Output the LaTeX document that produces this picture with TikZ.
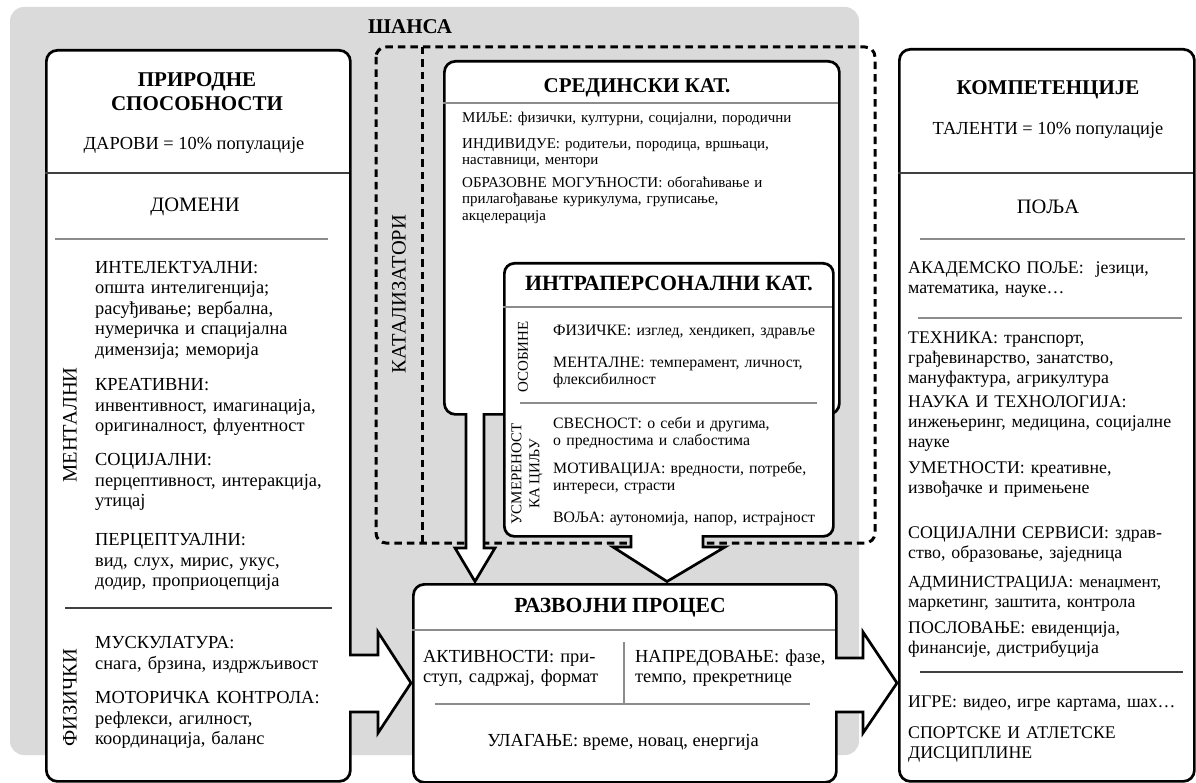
\documentclass[tikz,border=0pt]{standalone}
\usepackage{fontspec}
\setmainfont{Liberation Serif}
\definecolor{bggray}{RGB}{218,218,218}
\definecolor{sepgray}{RGB}{140,140,140}
\newcommand{\fbody}{\fontsize{18.4}{20.5}\selectfont}
\newcommand{\fright}{\fontsize{17.8}{20}\selectfont}
\newcommand{\fsmall}{\fontsize{15}{16.5}\selectfont}
\newcommand{\fintra}{\fontsize{15.8}{17}\selectfont}
\newcommand{\ftitle}{\fontsize{21}{24}\selectfont\bfseries}
\newcommand{\fhead}{\fontsize{20.5}{24}\selectfont}
\newcommand{\frot}{\fontsize{15}{18}\selectfont}
\begin{document}
\begin{tikzpicture}[x=1pt,y=-1pt,
  boxline/.style={line width=2.7pt},
  bigbox/.style={draw, boxline, fill=white, rounded corners=11pt, anchor=north west, inner sep=0pt},
  dashline/.style={line width=3pt, dash pattern=on 7.5pt off 5pt},
  lightsep/.style={draw=sepgray, line width=1.4pt},
  darksep/.style={draw=black!75, line width=1.2pt},
  body/.style={anchor=base west, inner sep=0pt, align=left, text width=300pt, font=\fbody},
  rbody/.style={anchor=base west, inner sep=0pt, align=left, text width=300pt, font=\fright},
  small/.style={anchor=base west, inner sep=0pt, align=left, text width=330pt, font=\fsmall},
  ibody/.style={anchor=base west, inner sep=0pt, align=left, text width=330pt, font=\fintra},
  title/.style={inner sep=0pt, align=center, font=\ftitle},
  head/.style={inner sep=0pt, align=center, font=\fhead},
  centre/.style={inner sep=0pt, align=center, font=\fbody},
  arrowfill/.style={fill=white},
  arrowline/.style={boxline, line join=miter}
]
\useasboundingbox (0,0) rectangle (1196,783);
% chance background
\fill[bggray, rounded corners=14pt] (10,7) rectangle (859,755);
\node[title] (chance) at (410,27) {ШАНСА};
% catalysts dashed frame
\draw[dashline, rounded corners=10pt] (376,47) rectangle (875,543);
\coordinate (divtop) at (422,47);
\coordinate (divbot) at (422,543);
\draw[dashline] (divtop) -- (divbot);
\node[head, rotate=90] (cat) at (399,294) {КАТАЛИЗАТОРИ};

% boxes
\node[bigbox, minimum width=304pt, minimum height=731pt] (nat) at (45,49) {};
\node[bigbox, minimum width=295pt, minimum height=732pt] (comp) at (898,48) {};
\node[bigbox, minimum width=395pt, minimum height=353pt] (env) at (443,60) {};
\node[bigbox, rounded corners=10pt, minimum width=329pt, minimum height=273pt] (intra) at (503,262) {};
\node[bigbox, minimum width=423pt, minimum height=198pt] (dev) at (412,583) {};

% arrow: natural abilities -> developmental process
\fill[arrowfill] (349,655) -- (378,655) -- (378,632) -- (411,683) -- (378,733) -- (378,712) -- (349,712) -- cycle;
\fill[white] (347,656.4) rectangle (351,710.6);
\draw[arrowline] (349,655) -- (378,655) -- (378,632) -- (411,683) -- (378,733) -- (378,712) -- (349,712);

% arrow: developmental process -> competencies
\fill[arrowfill] (835,658) -- (863,658) -- (863,632) -- (897,683) -- (863,733) -- (863,712) -- (835,712) -- cycle;
\fill[white] (833,659.4) rectangle (837,710.6);
\draw[arrowline] (835,658) -- (863,658) -- (863,632) -- (897,683) -- (863,733) -- (863,712) -- (835,712);

% arrow: environmental -> developmental process
\fill[arrowfill] (466,413) -- (466,548) -- (455,548) -- (475,581.5) -- (495,548) -- (484,548) -- (484,413) -- cycle;
\fill[white] (467.4,411) rectangle (482.6,415);
\draw[arrowline] (466,413) -- (466,548) -- (455,548) -- (475,581.5) -- (495,548) -- (484,548) -- (484,413);

% arrow: intrapersonal -> developmental process
\fill[arrowfill] (631,535) -- (631,547) -- (613,547) -- (667,581.5) -- (725,547) -- (703,547) -- (703,535) -- cycle;
\fill[white] (632.4,533) rectangle (701.6,537);
\draw[arrowline] (631,535) -- (631,547) -- (613,547) -- (667,581.5) -- (725,547) -- (703,547) -- (703,535);

% separators
\draw[darksep] (45,173) -- (349,173);
\draw[lightsep] (55,239) -- (328,239);
\draw[darksep] (65,608) -- (332,608);
\draw[darksep] (898,173) -- (1193,173);
\draw[lightsep] (920,239) -- (1185,239);
\draw[lightsep] (918,318) -- (1182,318);
\draw[darksep] (920,672) -- (1183,672);
\draw[lightsep] (443,103) -- (838,103);
\draw[lightsep] (503,307) -- (832,307);
\draw[lightsep] (520,403) -- (817,403);
\draw[lightsep] (412,630) -- (835,630);
\draw[lightsep] (624,642) -- (624,703);
\draw[lightsep] (435,704) -- (810,704);

% natural abilities texts
\node[title] (natT) at (197,92) {ПРИРОДНЕ\\СПОСОБНОСТИ};
\node[centre] (gifts) at (194,145) {ДАРОВИ = 10\% популације};
\node[head] (domains) at (195,207) {ДОМЕНИ};
\node[head, rotate=90] (mental) at (70,425) {МЕНТАЛНИ};
\node[head, rotate=90] (phys) at (70,698) {ФИЗИЧКИ};
\node[body] (n1) at (95,273.5) {ИНТЕЛЕКТУАЛНИ:\\општа интелигенција;\\расуђивање; вербална,\\нумеричка и спацијална\\димензија; меморија};
\node[body] (n2) at (95,390.5) {КРЕАТИВНИ:\\инвентивност, имагинација,\\оригиналност, флуентност};
\node[body] (n3) at (95,465.5) {СОЦИЈАЛНИ:\\перцептивност, интеракција,\\утицај};
\node[body] (n4) at (95,545.5) {ПЕРЦЕПТУАЛНИ:\\вид, слух, мирис, укус,\\додир, проприоцепција};
\node[body] (n5) at (95,648.5) {МУСКУЛАТУРА:\\снага, брзина, издржљивост};
\node[body] (n6) at (95,703.5) {МОТОРИЧКА КОНТРОЛА:\\рефлекси, агилност,\\координација, баланс};

% competencies texts
\node[title] (compT) at (1048,90) {КОМПЕТЕНЦИЈЕ};
\node[centre] (talents) at (1048,130) {ТАЛЕНТИ = 10\% популације};
\node[head] (fields) at (1048,207) {ПОЉА};
\node[rbody] (c1) at (908,273.5) {АКАДЕМСКО ПОЉЕ:\ \ језици,\\математика, науке…};
\node[rbody] (c2) at (908,343.5) {ТЕХНИКА: транспорт,\\грађевинарство, занатство,\\мануфактура, агрикултура};
\node[rbody] (c3) at (908,407.5) {НАУКА И ТЕХНОЛОГИЈА:\\инжењеринг, медицина, социјалне\\науке};
\node[rbody] (c4) at (908,473.5) {УМЕТНОСТИ: креативне,\\извођачке и примењене};
\node[rbody] (c5) at (908,538.5) {СОЦИЈАЛНИ СЕРВИСИ: здрав-\\ство, образовање, заједница};
\node[rbody] (c6) at (908,587.5) {{\fontsize{17}{20}\selectfont АДМИНИСТРАЦИЈА: менаџмент,}\\маркетинг, заштита, контрола};
\node[rbody] (c7) at (908,633.5) {ПОСЛОВАЊЕ: евиденција,\\финансије, дистрибуција};
\node[rbody] (c8) at (908,707.5) {ИГРЕ: видео, игре картама, шах…};
\node[rbody] (c9) at (908,738.5) {СПОРТСКЕ И АТЛЕТСКЕ\\ДИСЦИПЛИНЕ};

% environmental texts
\node[title] (envT) at (637,88) {СРЕДИНСКИ КАТ.};
\node[small] (e1) at (462,122.5) {МИЉЕ: физички, културни, социјални, породични};
\node[small] (e2) at (462,148.5) {ИНДИВИДУЕ: родитељи, породица, вршњаци,\\наставници, ментори};
\node[small] (e3) at (462,187.5) {ОБРАЗОВНЕ МОГУЋНОСТИ: обогаћивање и\\прилагођавање курикулума, груписање,\\акцелерација};

% intrapersonal texts
\node[title, font=\fontsize{21.8}{24}\selectfont\bfseries] (intraT) at (669,283) {ИНТРАПЕРСОНАЛНИ КАТ.};
\node[inner sep=0pt, font=\frot, rotate=90] (traits) at (523,357) {ОСОБИНЕ};
\node[inner sep=0pt, align=center, font=\frot, rotate=90] (goal) at (527,474) {УСМЕРЕНОСТ\\КА ЦИЉУ};
\node[ibody] (i1) at (553,335) {ФИЗИЧКЕ: изглед, хендикеп, здравље};
\node[ibody] (i2) at (553,367) {МЕНТАЛНЕ: темперамент, личност,\\флексибилност};
\node[ibody] (i3) at (553,428) {СВЕСНОСТ: о себи и другима,\\о предностима и слабостима};
\node[ibody] (i4) at (553,473) {МОТИВАЦИЈА: вредности, потребе,\\интереси, страсти};
\node[ibody] (i5) at (553,522) {ВОЉА: аутономија, напор, истрајност};

% developmental process texts
\node[title, font=\fontsize{21.6}{24}\selectfont\bfseries] (devT) at (620,608) {РАЗВОЈНИ ПРОЦЕС};
\node[body, text width=195pt] (d1) at (423,662) {АКТИВНОСТИ: при-\\ступ, садржај, формат};
\node[body, text width=195pt] (d2) at (635,662) {НАПРЕДОВАЊЕ: фазе,\\темпо, прекретнице};
\node[centre] (d3) at (623,742) {УЛАГАЊЕ: време, новац, енергија};
\end{tikzpicture}
\end{document}
